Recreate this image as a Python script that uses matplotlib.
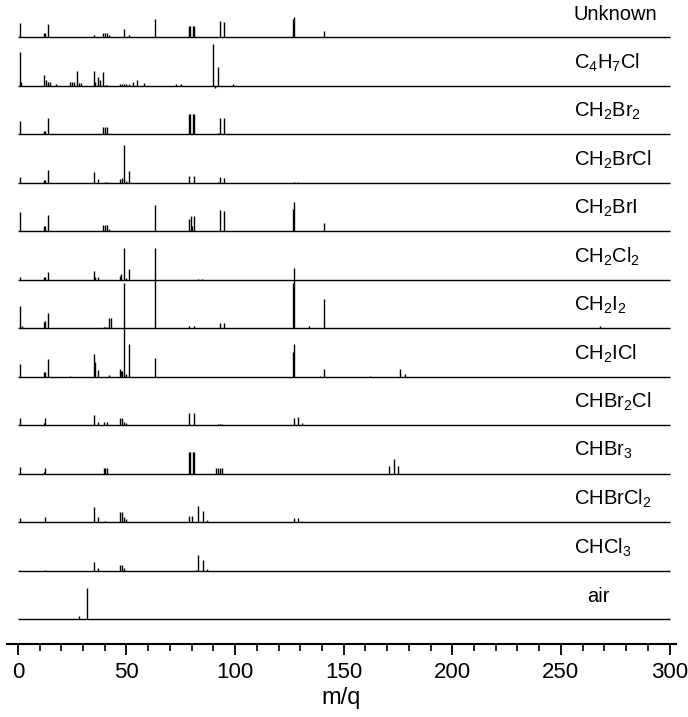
import matplotlib
matplotlib.use("Agg")
import matplotlib.pyplot as plt
from matplotlib.ticker import MultipleLocator


# peak lists: (m/q, intensity), intensity in the same units as the trace spacing
unknown = [(1, 14), (12, 4), (12.5, 4.7), (14, 13), (35, 2.3), (39, 4.3), (40, 4.3),
           (41, 4.3), (42, 2), (49, 8), (51, 2.7), (63, 18.3), (78.7, 11), (79.3, 11),
           (80.7, 11.3), (81.3, 11.3), (93, 16), (95, 15), (126.6, 18), (127.2, 20),
           (141, 6.3)]
c4h7cl = [(1, 34), (1.6, 4), (12, 10.7), (12.8, 5.7), (13.7, 4.3), (14.7, 4), (17.5, 2),
          (24, 4), (25, 3.5), (26, 4), (27, 14.7), (28, 3), (29, 3), (35, 14.7),
          (35.7, 4), (37, 8.7), (38, 5.7), (39, 13.7), (40, 1), (41, 1), (47, 1.5),
          (48, 2), (49, 2), (50, 1.5), (51, 2), (53, 4), (55, 5.7), (58, 2.7), (73, 1.5),
          (75, 1.5), (90, 41.7), (90.7, -2.3), (92, 19), (99, 2)]
ch2br2 = [(1, 13), (12, 3.7), (12.5, 3.7), (14, 16.7), (39, 7), (40, 7), (41, 7),
          (78.7, 20.3), (79.3, 20.3), (80.7, 20.3), (81.3, 20.3), (92, 1), (93, 16.7),
          (95, 16)]
ch2brcl = [(1, 6), (12, 3.3), (12.5, 3.3), (14, 13.3), (35, 11), (37, 4), (40, 1),
           (41, 1), (47, 4), (47.8, 5), (49, 37.7), (50, 2), (51, 12), (79, 7.3),
           (81, 6.7), (92, 1), (93, 6.3), (95, 5.3), (127, 0.7), (129, 0.7)]
ch2bri = [(1, 19), (12, 5.7), (12.5, 5.7), (14, 16), (39, 6.7), (40, 6.7), (41, 6.7),
          (42, 2.7), (63, 26.7), (79, 12.7), (79.5, 15), (80, 5), (81, 15.7), (93, 21.7),
          (95, 20.3), (126.5, 22), (127, 29), (141, 8.3)]
ch2cl2 = [(1, 3.3), (12, 2.7), (12.5, 2.7), (14, 8.3), (35, 9), (35.7, 3.3), (37, 3.3),
          (47, 4), (47.7, 6), (49, 32), (50, 2), (51, 10.7), (83, 1), (84.6, 1)]
ch2i2 = [(1, 22), (2, 2), (12, 6.7), (12.5, 7.3), (14, 15.3), (39.5, 1.7), (40.3, 1.7),
         (41.2, 1.5), (42, 10.7), (43, 10), (63, 80), (79, 2.7), (81, 2.7), (93, 5),
         (95, 5), (126.5, 45), (127, 60), (134, 2), (141, 29), (268, 2)]
ch2icl = [(1, 13), (12, 5), (12.5, 5), (14, 17.7), (24, 1), (35, 23), (35.5, 15),
          (37, 7.3), (42, 1.5), (47, 8.3), (47.5, 6), (48, 6), (49, 94), (50, 3),
          (51, 33), (63, 19), (126.5, 25), (127, 33), (139, 1), (141, 7.7), (162, 1),
          (176, 7.7), (178, 3)]
chbr2cl = [(1, 7), (12, 2), (12.7, 7), (35, 10), (37, 3.7), (39.5, 3.3), (41, 3.3),
           (47, 7.3), (47.8, 7.3), (49, 3), (50, 2), (79, 12), (81, 12), (92, 1), (93, 1),
           (94, 1), (127, 7.3), (129, 8.3), (131, 2)]
chbr3 = [(1, 7), (12, 2), (12.7, 6.3), (39.5, 5.7), (40.3, 5.7), (41, 5.7), (78.7, 22),
         (79.3, 22), (80.7, 22), (81.3, 22), (91, 6), (92, 6), (93, 6), (94, 6),
         (171, 8), (173, 15), (175, 8)]
chbrcl2 = [(1, 4), (12.7, 5), (35, 15), (37, 5), (40, 1), (47, 10), (47.8, 10), (49, 5),
           (50, 3), (79, 6), (80, 6), (83, 16.7), (85, 11.7), (87, 2), (127, 4.3),
           (129, 4.3), (131, 1)]
chcl3 = [(1, 1), (12.7, 1), (35, 9.3), (37, 3.3), (47, 6), (47.8, 6), (49, 3), (82, 1),
         (83, 16), (85, 11), (87, 2)]
air = [(28, 3.3), (32, 31)]

spectra = [unknown, c4h7cl, ch2br2, ch2brcl, ch2bri, ch2cl2, ch2i2, ch2icl,
           chbr2cl, chbr3, chbrcl2, chcl3, air]
labels = ["Unknown", r"C$_4$H$_7$Cl", r"CH$_2$Br$_2$", r"CH$_2$BrCl", r"CH$_2$BrI",
          r"CH$_2$Cl$_2$", r"CH$_2$I$_2$", r"CH$_2$ICl", r"CHBr$_2$Cl", r"CHBr$_3$",
          r"CHBrCl$_2$", r"CHCl$_3$", "air"]

SPACING = 48.5


def main():
    plt.rcParams["font.family"] = ["Liberation Sans", "DejaVu Sans"]
    plt.rcParams["mathtext.fontset"] = "custom"
    plt.rcParams["mathtext.rm"] = "Liberation Sans"
    plt.rcParams["mathtext.it"] = "Liberation Sans:italic"

    fig = plt.figure(figsize=(6.88, 7.17), dpi=100)
    ax = fig.add_axes([0.0102, 0.1018, 0.9724, 0.8982])

    n = len(spectra)
    for i, (peaks, label) in enumerate(zip(spectra, labels)):
        offset = SPACING * (n - 1 - i)
        ax.hlines(offset, 0, 300, color="black", lw=1.0)
        mz = [p[0] for p in peaks]
        inten = [p[1] for p in peaks]
        ax.vlines(mz, offset, [offset + h for h in inten], color="black", lw=1.0)
        x_lab = 262 if label == "air" else 256
        ax.text(x_lab, offset + 23, label, fontsize=14.5, ha="left", va="center")

    ax.set_xlim(-5, 303)
    ax.set_ylim(-24.7, 619.3)

    for side in ["left", "right", "top"]:
        ax.spines[side].set_visible(False)
    ax.spines["bottom"].set_linewidth(1.5)
    ax.set_yticks([])
    ax.xaxis.set_major_locator(MultipleLocator(50))
    ax.xaxis.set_minor_locator(MultipleLocator(10))
    ax.tick_params(axis="x", which="major", direction="out", length=8, width=1.3,
                   labelsize=16, pad=5)
    ax.tick_params(axis="x", which="minor", direction="out", length=5, width=1.2)
    ax.set_xlabel("m/q", fontsize=17, labelpad=3)

    fig.savefig("out.png", dpi=100)
    plt.close(fig)


if __name__ == "__main__":
    main()
